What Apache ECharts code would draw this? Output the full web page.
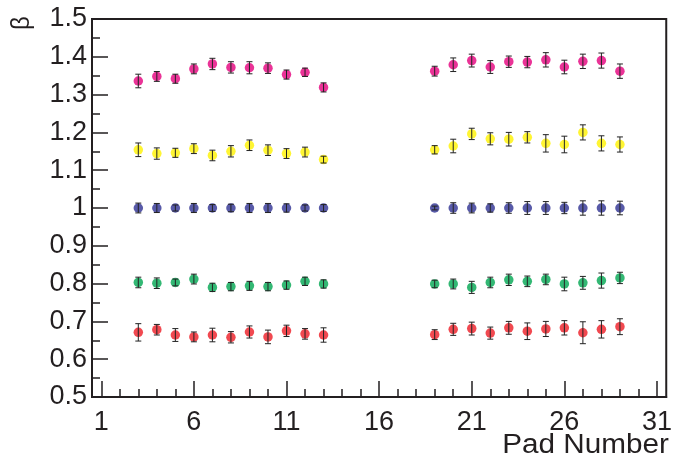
<!DOCTYPE html>
<html>
<head>
<meta charset="utf-8">
<script src="https://cdn.jsdelivr.net/npm/echarts@6/dist/echarts.min.js"></script>
<style>
html,body{margin:0;padding:0;background:#fff;}
#chart{width:675px;height:468px;}
</style>
</head>
<body>
<div id="chart"></div>
<script>
var pads = [3,4,5,6,7,8,9,10,11,12,13, 19,20,21,22,23,24,25,26,27,28,29];
var xMajorTicks = [1,6,11,16,21,26,31];
var xMinorTicks = [1,2,3,4,5,6,7,8,9,10,11,12,13,14,15,16,17,18,19,20,21,22,23,24,25,26,27,28,29,30,31];

var magenta    = [1.336,1.348,1.342,1.368,1.381,1.372,1.371,1.370,1.353,1.359,1.319, 1.362,1.379,1.390,1.373,1.387,1.386,1.392,1.373,1.388,1.390,1.362];
var magentaErr = [0.018,0.013,0.012,0.013,0.015,0.015,0.016,0.014,0.012,0.011,0.012, 0.013,0.018,0.017,0.017,0.015,0.015,0.019,0.018,0.019,0.020,0.019];

var yellow     = [1.154,1.144,1.146,1.157,1.139,1.150,1.166,1.153,1.144,1.148,1.128, 1.154,1.164,1.196,1.183,1.182,1.187,1.171,1.168,1.200,1.171,1.168];
var yellowErr  = [0.018,0.015,0.012,0.013,0.014,0.015,0.014,0.014,0.013,0.013,0.009, 0.011,0.018,0.015,0.016,0.018,0.015,0.023,0.022,0.020,0.020,0.020];

var blue       = [1.000,1.000,1.000,1.000,1.000,1.000,1.000,1.000,1.000,1.000,1.000, 1.000,1.000,1.000,1.000,1.000,1.000,1.000,1.000,1.000,1.000,1.000];
var blueErr    = [0.013,0.012,0.008,0.012,0.009,0.010,0.012,0.012,0.011,0.008,0.009, 0.005,0.014,0.013,0.011,0.014,0.017,0.017,0.015,0.019,0.019,0.018];

var green      = [0.803,0.801,0.803,0.812,0.790,0.792,0.794,0.792,0.796,0.806,0.799, 0.799,0.799,0.790,0.803,0.810,0.806,0.811,0.799,0.802,0.808,0.815];
var greenErr   = [0.014,0.014,0.009,0.013,0.011,0.011,0.012,0.011,0.011,0.011,0.011, 0.010,0.013,0.016,0.014,0.015,0.014,0.014,0.018,0.017,0.020,0.015];

var red        = [0.671,0.678,0.664,0.659,0.664,0.658,0.672,0.659,0.675,0.667,0.664, 0.665,0.679,0.681,0.669,0.683,0.674,0.680,0.683,0.670,0.679,0.686];
var redErr     = [0.023,0.014,0.017,0.013,0.018,0.015,0.016,0.018,0.015,0.014,0.019, 0.013,0.016,0.017,0.016,0.017,0.022,0.020,0.019,0.029,0.023,0.021];

var groups = [
  {name:'magenta', vals: magenta, errs: magentaErr, color:'#e5007d'},
  {name:'yellow',  vals: yellow,  errs: yellowErr,  color:'#fff200'},
  {name:'blue',    vals: blue,    errs: blueErr,    color:'#2e3192'},
  {name:'green',   vals: green,   errs: greenErr,   color:'#00a651'},
  {name:'red',     vals: red,     errs: redErr,     color:'#ed1c24'}
];

var INK = '#231f20';
var FONT = 'Liberation Sans, Arial, Helvetica, sans-serif';

function errRender(params, api) {
  var x = api.value(0), y = api.value(1), e = api.value(2);
  var lo = api.coord([x, y - e]);
  var hi = api.coord([x, y + e]);
  var cw = 3;
  var st = {stroke: '#222', lineWidth: 1};
  return {
    type: 'group',
    children: [
      {type:'line', shape:{x1:lo[0], y1:lo[1], x2:hi[0], y2:hi[1]}, style: st},
      {type:'line', shape:{x1:lo[0]-cw, y1:lo[1], x2:lo[0]+cw, y2:lo[1]}, style: st},
      {type:'line', shape:{x1:hi[0]-cw, y1:hi[1], x2:hi[0]+cw, y2:hi[1]}, style: st}
    ]
  };
}

var series = [];
groups.forEach(function(g){
  var pts = pads.map(function(p, i){ return [p, g.vals[i]]; });
  var errs = pads.map(function(p, i){ return [p, g.vals[i], g.errs[i]]; });
  series.push({
    type:'scatter', name:g.name, data: pts, symbol:'circle', symbolSize: 9.5,
    itemStyle:{color: g.color}, z: 2, silent: true
  });
  series.push({
    type:'custom', name:g.name + ' err', data: errs, renderItem: errRender,
    encode:{x:0, y:1}, z: 3, silent: true
  });
});

var chart = echarts.init(document.getElementById('chart'), null, {renderer:'canvas'});
chart.setOption({
  animation: false,
  backgroundColor: '#ffffff',
  grid: {left: 92, right: 7, top: 19, bottom: 71, show: true, borderColor: INK, borderWidth: 2, backgroundColor: 'transparent'},
  xAxis: [{
    type: 'value', min: 0.5, max: 31.5, position: 'bottom',
    axisLine: {show: true, onZero: false, lineStyle: {color: INK, width: 2}},
    axisTick: {show: true, inside: true, length: 16, customValues: xMajorTicks, lineStyle: {color: INK, width: 1.5}},
    axisLabel: {show: true, customValues: xMajorTicks, fontSize: 27, fontFamily: FONT, color: INK, margin: 12},
    splitLine: {show: false}
  }, {
    type: 'value', min: 0.5, max: 31.5, position: 'bottom', offset: 0,
    axisLine: {show: false},
    axisTick: {show: true, inside: true, length: 8, customValues: xMinorTicks, lineStyle: {color: INK, width: 1.5}},
    axisLabel: {show: false, customValues: xMinorTicks},
    splitLine: {show: false}
  }],
  yAxis: {
    type: 'value', min: 0.5, max: 1.5, interval: 0.1,
    axisLine: {show: true, onZero: false, lineStyle: {color: INK, width: 2}},
    axisTick: {show: true, inside: true, length: 16, lineStyle: {color: INK, width: 1.5}},
    minorTick: {show: true, splitNumber: 2, length: 8, lineStyle: {color: INK, width: 1.5}},
    axisLabel: {fontSize: 27, fontFamily: FONT, color: INK, margin: 5, padding: [4, 0, 0, 0],
      formatter: function(v){ return String(+v.toFixed(2)); }},
    splitLine: {show: false}
  },
  graphic: [
    {type:'text', x: 22, y: 23, rotation: Math.PI/2, scaleY: 1.1,
     style: {text: 'β', font: '24px ' + FONT, fill: INK, textAlign: 'center', textVerticalAlign: 'middle'}},
    {type:'text', x: 669, y: 446, scaleX: 1.1,
     style: {text: 'Pad Number', font: '27px ' + FONT, fill: INK, textAlign: 'right', textVerticalAlign: 'middle'}}
  ],
  series: series
});
</script>
</body>
</html>
